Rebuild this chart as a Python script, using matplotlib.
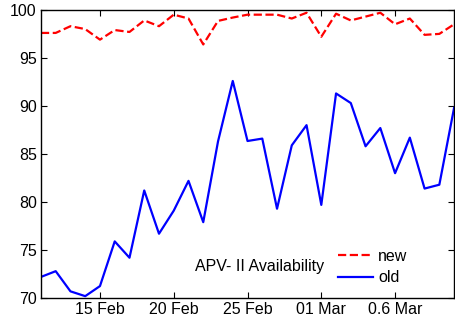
import numpy as np
import matplotlib
matplotlib.use("Agg")
import matplotlib.pyplot as plt

plt.rcParams['font.family'] = ['Liberation Sans', 'DejaVu Sans']

# day index from 11 Feb
days = np.arange(29)

new_avail = [97.6, 97.6, 98.3, 98.0, 96.9, 97.9, 97.7, 98.9, 98.3, 99.5,
             99.1, 96.4, 98.85, 99.2, 99.5, 99.5, 99.5, 99.1, 99.7, 97.2,
             99.6, 98.9, 99.3, 99.7, 98.5, 99.1, 97.4, 97.5, 98.5]
old_avail = [72.2, 72.8, 70.7, 70.2, 71.25, 75.9, 74.2, 81.2, 76.7, 79.1,
             82.2, 77.9, 86.3, 92.6, 86.35, 86.6, 79.3, 85.9, 88.0, 79.7,
             91.3, 90.3, 85.8, 87.7, 83.0, 86.7, 81.4, 81.8, 89.8]

tick_pos = [4, 9, 14, 19, 24]
tick_labels = ['15 Feb', '20 Feb', '25 Feb', '01 Mar', '0.6 Mar']

fig = plt.figure(figsize=(4.55, 3.29), dpi=100)
ax = fig.add_axes([0.090, 0.094, 0.908, 0.876])

ax.plot(days, new_avail, color='red', linestyle='--', linewidth=1.6, label='new')
ax.plot(days, old_avail, color='blue', linestyle='-', linewidth=1.6, label='old')

ax.set_xlim(0, 28)
ax.set_ylim(70, 100)
ax.set_xticks(tick_pos)
ax.set_xticklabels(tick_labels)
ax.set_yticks(np.arange(70, 101, 5))
ax.tick_params(direction='in', top=True, right=True, labelsize=11.5, length=4, pad=3)
for s in ax.spines.values():
    s.set_linewidth(1.0)

ax.text(0.373, 0.108, 'APV- II Availability', transform=ax.transAxes,
        fontsize=11.5, va='center', ha='left')
ax.legend(loc='center left', bbox_to_anchor=(0.70, 0.108), frameon=False,
          fontsize=11.5, handlelength=2.2, handletextpad=0.3, labelspacing=0.4,
          borderpad=0.0)

fig.savefig('out.png', dpi=100)
